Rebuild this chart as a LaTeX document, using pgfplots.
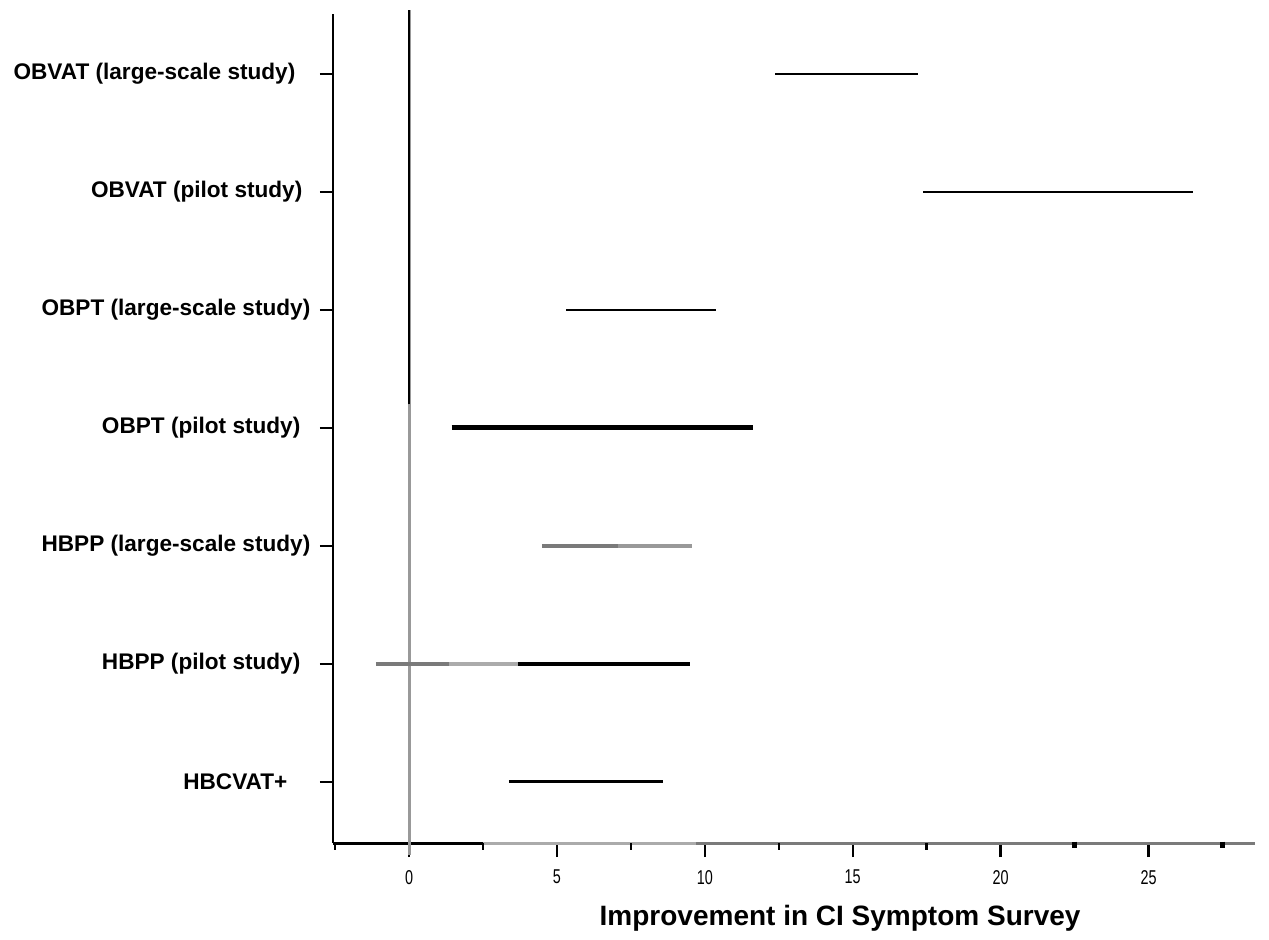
\documentclass[border=0pt]{standalone}
\usepackage{fontspec}
\setmainfont{Liberation Sans}
\usepackage{pgfplots}
\pgfplotsset{compat=1.18}
\definecolor{dgrey}{HTML}{7A7A7A}
\definecolor{lgrey}{HTML}{ABABAB}
\definecolor{mgrey}{HTML}{999999}
\begin{document}
\begin{tikzpicture}
\path[use as bounding box] (-166.5pt,-48pt) rectangle (468pt,421.5pt);
\begin{axis}[
  scale only axis,
  width=461pt, height=414.5pt,
  xmin=-2.57, xmax=28.6,
  ymin=0.483, ymax=7.508,
  clip=false,
  axis x line=bottom, axis y line=left,
  x axis line style={-, line width=1.5pt, black},
  y axis line style={-, line width=1.25pt, black},
  tick align=outside,
  xtick=\empty,
  extra x ticks={0,5,10,15,20,25},
  extra x tick style={major tick length=7pt, tick style={black, line width=1.2pt}},
  major tick length=6.5pt,
  y tick style={black, line width=1.2pt},
  ytick={1,2,3,4,5,6,7},
  yticklabels={
    {HBCVAT+\kern11.5pt},
    {HBPP (pilot study)\kern5pt},
    {HBPP (large-scale study)},
    {OBPT (pilot study)\kern5pt},
    {OBPT (large-scale study)},
    {OBVAT (pilot study)\kern4pt},
    {OBVAT (large-scale study)\kern7.5pt}},
  yticklabel style={font=\fontsize{11.3}{13}\selectfont\bfseries, xshift=-1.3pt},
  /pgf/number format/assume math mode=true,
  xticklabel={\scalebox{0.72}[1]{\pgfmathprintnumber{\tick}}},
  xticklabel style={font=\fontsize{10}{12}\selectfont, yshift=-3pt},
  xlabel={Improvement in CI Symptom Survey},
  xlabel style={font=\fontsize{14}{16}\selectfont\bfseries, at={(rel axis cs:0.55,0)}, anchor=center, yshift=-37.5pt},
]
% bottom axis colouring
\addplot[lgrey, line width=1.5pt] coordinates {(2.5,0.483) (9.7,0.483)};
\addplot[dgrey, line width=1.5pt] coordinates {(9.7,0.483) (28.6,0.483)};
% minor ticks
\addplot[black, line width=1.2pt] coordinates {(-2.5,0.483) (-2.5,0.424)};
\addplot[black, line width=1.2pt] coordinates {(2.5,0.483) (2.5,0.424)};
\addplot[black, line width=1.2pt] coordinates {(7.5,0.483) (7.5,0.424)};
\addplot[black, line width=1.2pt] coordinates {(12.5,0.483) (12.5,0.424)};
\addplot[black, line width=1.2pt] coordinates {(17.5,0.483) (17.5,0.424)};
% thick ticks at 22.5 and 27.5
\addplot[black, line width=2.5pt] coordinates {(22.5,0.495) (22.5,0.44)};
\addplot[black, line width=2.5pt] coordinates {(27.5,0.495) (27.5,0.44)};
% zero line
\addplot[mgrey, line width=1.5pt] coordinates {(0,0.38) (0,7.54)};
\addplot[black, line width=1pt] coordinates {(0,4.2) (0,7.54)};
% intervals
\addplot[black, line width=1.4pt] coordinates {(12.38,7) (17.22,7)};
\addplot[black, line width=1.4pt] coordinates {(17.39,6) (26.49,6)};
\addplot[black, line width=1.4pt] coordinates {(5.31,5) (10.39,5)};
\addplot[black, line width=2.5pt] coordinates {(1.44,4) (11.63,4)};
\addplot[dgrey, line width=2pt] coordinates {(4.49,3) (7.07,3)};
\addplot[mgrey, line width=2pt] coordinates {(7.07,3) (9.58,3)};
\addplot[dgrey, line width=1.8pt] coordinates {(-1.12,2) (1.35,2)};
\addplot[lgrey, line width=1.8pt] coordinates {(1.35,2) (3.69,2)};
\addplot[black, line width=1.6pt] coordinates {(3.69,2) (9.51,2)};
\addplot[black, line width=1.5pt] coordinates {(3.38,1) (8.59,1)};
\end{axis}
\end{tikzpicture}
\end{document}
